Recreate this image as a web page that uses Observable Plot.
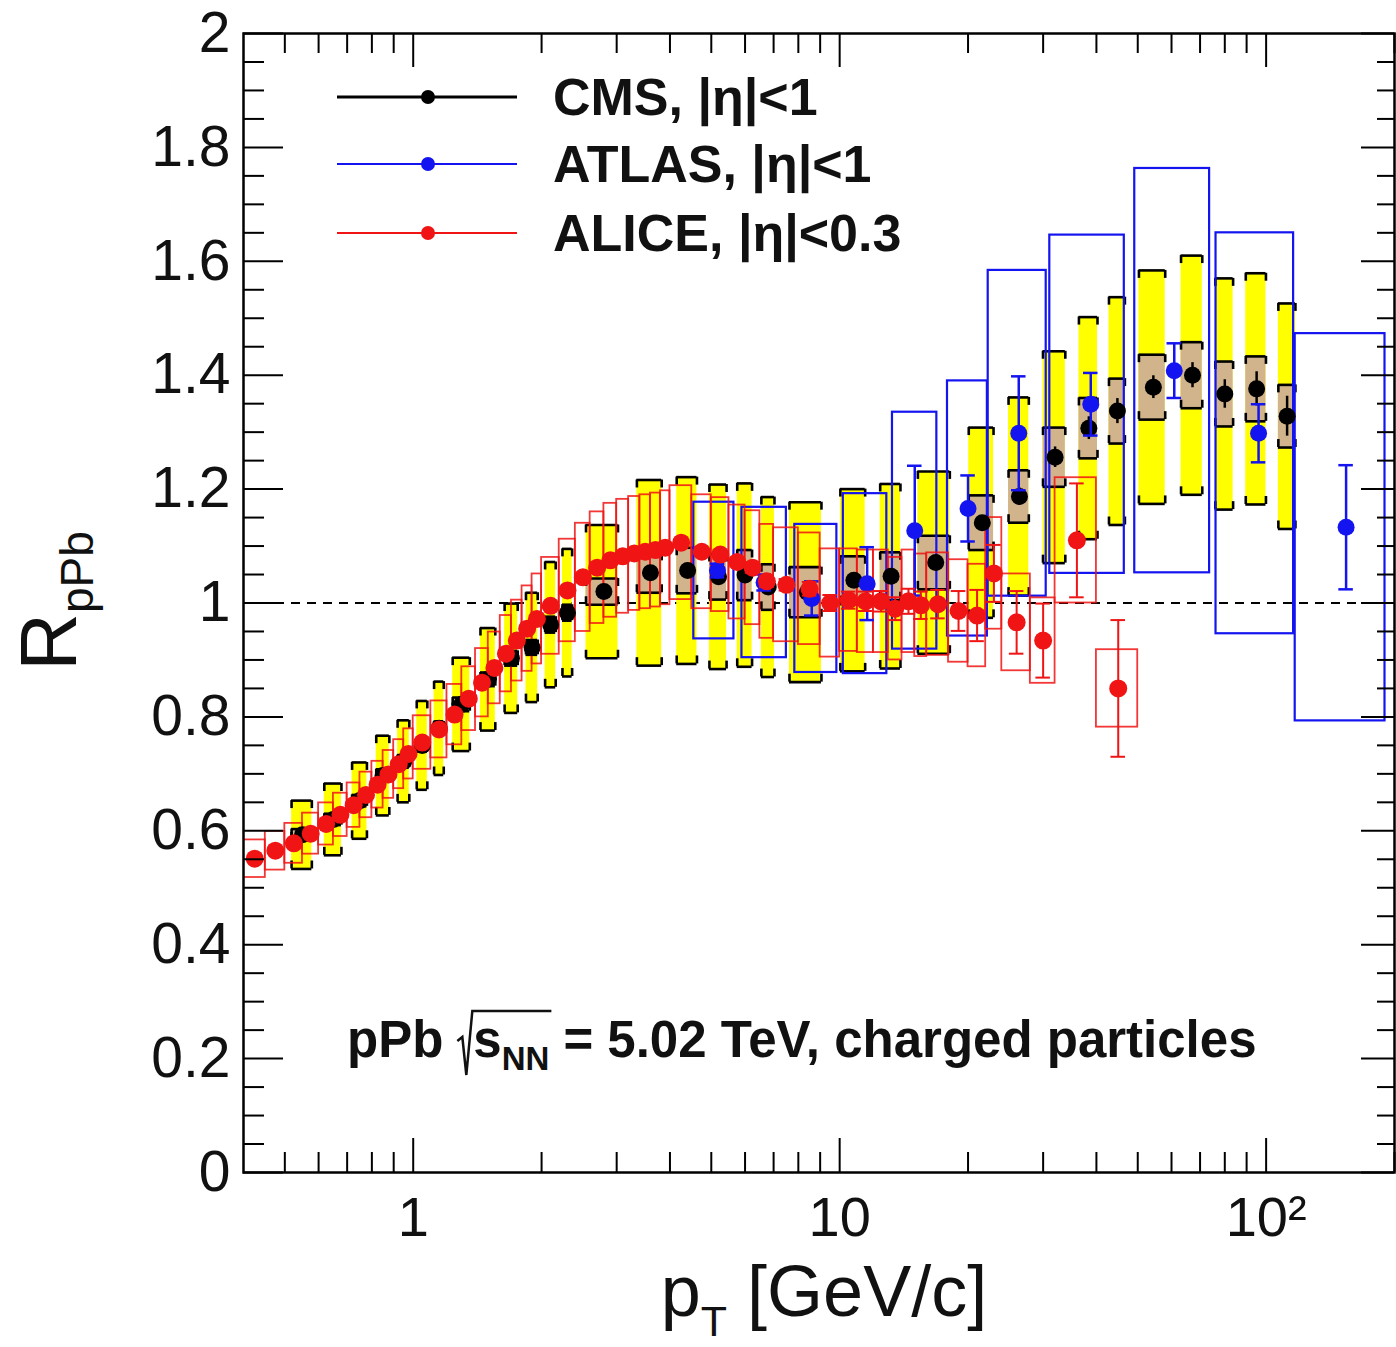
<!DOCTYPE html>
<html><head><meta charset="utf-8">
<script src="https://cdn.jsdelivr.net/npm/d3@7"></script>
<script src="https://cdn.jsdelivr.net/npm/@observablehq/plot@0.6"></script>
<style>
html,body{margin:0;padding:0;background:#ffffff;}
#chart{width:1396px;height:1347px;overflow:hidden;}
svg{display:block;}
</style></head>
<body><div id="chart"></div>
<script>
// ---------------- CMS, |eta|<1 ----------------
const cmsLo = [0.5,0.6,0.7,0.8,0.9,1.0,1.1,1.2,1.4,1.6,1.8,2.0,2.2,2.4,3.2,4.0,4.8,5.6,6.4,7.2,9.6,12.0,14.4,19.2,24.0,28.8,35.2,41.6,48.0,60.8,73.6,86.4,103.6];
const cmsHi = [0.6,0.7,0.8,0.9,1.0,1.1,1.2,1.4,1.6,1.8,2.0,2.2,2.4,3.2,4.0,4.8,5.6,6.4,7.2,9.6,12.0,14.4,19.2,24.0,28.8,35.2,41.6,48.0,60.8,73.6,86.4,103.6,120.8];
const cmsPt = [0.55,0.65,0.75,0.85,0.95,1.05,1.15,1.3,1.5,1.7,1.9,2.1,2.3,2.8,3.6,4.4,5.2,6.0,6.8,8.4,10.8,13.2,16.8,21.6,26.4,32,38.4,44.8,54.4,67.2,80,95,112];
const cmsR = [0.593,0.620,0.653,0.697,0.722,0.750,0.780,0.822,0.866,0.903,0.922,0.962,0.983,1.020,1.053,1.057,1.046,1.049,1.028,1.019,1.040,1.047,1.071,1.141,1.187,1.256,1.307,1.337,1.379,1.400,1.367,1.376,1.328];
const cmsStat = [0.004,0.004,0.004,0.004,0.004,0.004,0.004,0.004,0.004,0.005,0.005,0.005,0.005,0.005,0.006,0.006,0.006,0.007,0.008,0.008,0.009,0.01,0.01,0.012,0.015,0.018,0.02,0.022,0.02,0.022,0.025,0.03,0.035];
const cmsSys = [0.060,0.063,0.067,0.070,0.072,0.078,0.082,0.082,0.090,0.096,0.096,0.110,0.112,0.117,0.163,0.164,0.162,0.161,0.158,0.158,0.160,0.162,0.160,0.167,0.174,0.186,0.195,0.200,0.205,0.210,0.203,0.203,0.198];
const cmsSysB = [0.010,0.010,0.010,0.011,0.011,0.011,0.012,0.012,0.012,0.013,0.013,0.014,0.014,0.023,0.035,0.040,0.040,0.044,0.040,0.044,0.042,0.042,0.047,0.048,0.046,0.052,0.053,0.057,0.057,0.058,0.057,0.057,0.055];

// ---------------- ATLAS, |eta|<1 ----------------
const atlasLo = [4.55,5.9,7.85,10.2,13.3,17.9,22.3,31.1,49.2,76.3,117];
const atlasHi = [5.65,7.5,9.85,12.9,16.9,22.2,30.5,46.5,73.7,116,190];
const atlasPt = [5.17,6.65,8.6,11.6,15.0,20.0,26.3,38.8,60.9,96,154];
const atlasR = [1.057,1.036,1.008,1.034,1.127,1.166,1.298,1.349,1.408,1.298,1.133];
const atlasStat = [0.012,0.014,0.03,0.064,0.114,0.058,0.1,0.055,0.048,0.051,0.109];
const atlasSys = [0.12,0.132,0.13,0.158,0.208,0.224,0.286,0.297,0.355,0.352,0.34];

// ---------------- ALICE, |eta|<0.3 ----------------
const aliceLo = [0.4,0.45,0.5,0.55,0.6,0.65,0.7,0.75,0.8,0.85,0.9,0.95,1.0,1.1,1.2,1.3,1.4,1.5,1.6,1.7,1.8,1.9,2.0,2.2,2.4,2.6,2.8,3.0,3.2,3.4,3.6,3.8,4.0,4.5,5.0,5.5,6.0,6.5,7.0,8.0,9.0,10,11,12,13,14,15,16,18,20,22,24,28,32,40];
const aliceHi = [0.45,0.5,0.55,0.6,0.65,0.7,0.75,0.8,0.85,0.9,0.95,1.0,1.1,1.2,1.3,1.4,1.5,1.6,1.7,1.8,1.9,2.0,2.2,2.4,2.6,2.8,3.0,3.2,3.4,3.6,3.8,4.0,4.5,5.0,5.5,6.0,6.5,7.0,8.0,9.0,10,11,12,13,14,15,16,18,20,22,24,28,32,40,50];
const alicePt = [0.425,0.475,0.525,0.575,0.625,0.675,0.725,0.775,0.825,0.875,0.925,0.975,1.05,1.15,1.25,1.35,1.45,1.55,1.65,1.75,1.85,1.95,2.1,2.3,2.5,2.7,2.9,3.1,3.3,3.5,3.7,3.9,4.25,4.75,5.25,5.75,6.25,6.75,7.5,8.5,9.5,10.5,11.5,12.5,13.5,14.5,15.5,17,19,21,23,26,30,36,45];
const aliceR = [0.551,0.565,0.578,0.595,0.612,0.628,0.645,0.663,0.681,0.699,0.717,0.735,0.755,0.778,0.804,0.832,0.860,0.886,0.911,0.934,0.955,0.972,0.995,1.022,1.045,1.062,1.075,1.082,1.087,1.090,1.093,1.097,1.106,1.090,1.085,1.072,1.062,1.038,1.032,1.025,1.000,1.005,1.003,1.003,0.990,1.003,0.996,0.998,0.986,0.978,1.052,0.966,0.934,1.110,0.850];
const aliceStat = [0.003,0.003,0.003,0.003,0.003,0.003,0.003,0.003,0.003,0.003,0.003,0.003,0.003,0.003,0.003,0.003,0.003,0.003,0.003,0.003,0.003,0.003,0.004,0.004,0.004,0.004,0.004,0.005,0.005,0.005,0.006,0.006,0.006,0.007,0.008,0.008,0.009,0.010,0.010,0.012,0.014,0.015,0.017,0.018,0.020,0.022,0.024,0.025,0.035,0.045,0.050,0.055,0.065,0.100,0.120];
const aliceSys = [0.033,0.034,0.035,0.036,0.037,0.038,0.039,0.040,0.041,0.042,0.043,0.044,0.047,0.050,0.053,0.056,0.060,0.063,0.067,0.071,0.075,0.079,0.085,0.090,0.095,0.098,0.100,0.100,0.100,0.100,0.100,0.100,0.100,0.100,0.100,0.100,0.100,0.100,0.100,0.098,0.095,0.090,0.090,0.090,0.090,0.090,0.090,0.090,0.090,0.090,0.098,0.085,0.075,0.110,0.068];

// ---------------- axes, labels ----------------
const xMajor = [1, 10, 100];
const xMajorLabels = ["1", "10", "10\u00B2"];
const xMinor = [0.5,0.6,0.7,0.8,0.9,2,3,4,5,6,7,8,9,20,30,40,50,60,70,80,90,200];
const yMajor = [0,0.2,0.4,0.6,0.8,1,1.2,1.4,1.6,1.8,2];
const yMajorLabels = ["0","0.2","0.4","0.6","0.8","1","1.2","1.4","1.6","1.8","2"];
const yMinor = d3.range(0, 2.0001, 0.05).filter(v => Math.abs(v*5 - Math.round(v*5)) > 1e-6);
const legendLabels = ["CMS, |\u03B7|<1", "ATLAS, |\u03B7|<1", "ALICE, |\u03B7|<0.3"];

// ---------------- styles ----------------
const BLUE = "#1414f0", RED = "#f01414", YELLOW = "#ffff00", TAN = "#d2b48c";
const FONT = "'Liberation Sans', Arial, Helvetica, sans-serif";
const W = 1396, H = 1347, mL = 243, mR = 2, mT = 33, mB = 175;
const innerW = W - mL - mR, innerH = H - mT - mB;
const capLen = 0.014;   // bracket length, y units
const capF = 1.04;      // error-bar cap half width factor (log x)

const cms = cmsPt.map((pt, i) => ({pt, lo: cmsLo[i], hi: cmsHi[i], R: cmsR[i], stat: cmsStat[i], sys: cmsSys[i], sysB: cmsSysB[i]}));
const atlas = atlasPt.map((pt, i) => ({pt, lo: atlasLo[i], hi: atlasHi[i], R: atlasR[i], stat: atlasStat[i], sys: atlasSys[i]}));
const alice = alicePt.map((pt, i) => ({pt, lo: aliceLo[i], hi: aliceHi[i], R: aliceR[i], stat: aliceStat[i], sys: aliceSys[i]}));

const bx1 = d => d.lo * Math.pow(d.hi / d.lo, 0.2);
const bx2 = d => d.lo * Math.pow(d.hi / d.lo, 0.8);

function brackets(data, key) {
  const top = d => d.R + d[key], bot = d => d.R - d[key];
  const st = {stroke: "black", strokeWidth: 2.6};
  return [
    Plot.ruleY(data, {x1: bx1, x2: bx2, y: top, ...st}),
    Plot.ruleY(data, {x1: bx1, x2: bx2, y: bot, ...st}),
    Plot.ruleX(data, {x: bx1, y1: top, y2: d => top(d) - capLen, ...st}),
    Plot.ruleX(data, {x: bx2, y1: top, y2: d => top(d) - capLen, ...st}),
    Plot.ruleX(data, {x: bx1, y1: bot, y2: d => bot(d) + capLen, ...st}),
    Plot.ruleX(data, {x: bx2, y1: bot, y2: d => bot(d) + capLen, ...st})
  ];
}
function errorBars(data, color, withCaps, sw) {
  const m = [Plot.ruleX(data, {x: "pt", y1: d => d.R - d.stat, y2: d => d.R + d.stat, stroke: color, strokeWidth: sw})];
  if (withCaps) {
    m.push(Plot.ruleY(data, {x1: d => d.pt / capF, x2: d => d.pt * capF, y: d => d.R + d.stat, stroke: color, strokeWidth: sw}));
    m.push(Plot.ruleY(data, {x1: d => d.pt / capF, x2: d => d.pt * capF, y: d => d.R - d.stat, stroke: color, strokeWidth: sw}));
  }
  return m;
}

const plot = Plot.plot({
  width: W, height: H,
  marginLeft: mL, marginRight: mR, marginTop: mT, marginBottom: mB,
  x: {type: "log", domain: [0.4, 200], axis: null},
  y: {domain: [0, 2], axis: null},
  style: {background: "#ffffff", fontFamily: FONT, overflow: "visible"},
  marks: [
    Plot.ruleY([1], {stroke: "black", strokeWidth: 2, strokeDasharray: "9,7"}),
    // CMS boxes
    Plot.rect(cms, {x1: bx1, x2: bx2, y1: d => d.R - d.sys, y2: d => d.R + d.sys, fill: YELLOW}),
    ...brackets(cms, "sys"),
    Plot.rect(cms, {x1: bx1, x2: bx2, y1: d => d.R - d.sysB, y2: d => d.R + d.sysB, fill: TAN}),
    ...brackets(cms, "sysB"),
    // ATLAS boxes
    Plot.rect(atlas, {x1: "lo", x2: "hi", y1: d => d.R - d.sys, y2: d => d.R + d.sys, fill: "none", stroke: BLUE, strokeWidth: 2.2, clip: true}),
    // ALICE boxes
    Plot.rect(alice, {x1: "lo", x2: "hi", y1: d => d.R - d.sys, y2: d => d.R + d.sys, fill: "none", stroke: RED, strokeWidth: 1.8, strokeOpacity: 0.85, clip: true}),
    // CMS points
    ...errorBars(cms, "black", false, 2.5),
    Plot.dot(cms, {x: "pt", y: "R", r: 8.5, fill: "black"}),
    // ATLAS points
    ...errorBars(atlas, BLUE, true, 2.5),
    Plot.dot(atlas, {x: "pt", y: "R", r: 8.5, fill: BLUE}),
    // ALICE points
    ...errorBars(alice, RED, true, 2),
    Plot.dot(alice, {x: "pt", y: "R", r: 9, fill: RED, clip: true}),
    // ticks
    Plot.tickX(xMajor, {x: d => d, stroke: "black", strokeWidth: 2, insetTop: innerH - 34}),
    Plot.tickX(xMinor, {x: d => d, stroke: "black", strokeWidth: 2, insetTop: innerH - 20}),
    Plot.tickX(xMajor, {x: d => d, stroke: "black", strokeWidth: 2, insetBottom: innerH - 34}),
    Plot.tickX(xMinor, {x: d => d, stroke: "black", strokeWidth: 2, insetBottom: innerH - 20}),
    Plot.tickY(yMajor, {y: d => d, stroke: "black", strokeWidth: 2, insetRight: innerW - 40}),
    Plot.tickY(yMinor, {y: d => d, stroke: "black", strokeWidth: 2, insetRight: innerW - 21}),
    Plot.tickY(yMajor, {y: d => d, stroke: "black", strokeWidth: 2, insetLeft: innerW - 33}),
    Plot.tickY(yMinor, {y: d => d, stroke: "black", strokeWidth: 2, insetLeft: innerW - 17}),
    Plot.frame({stroke: "black", strokeWidth: 2.5}),
    // tick labels
    Plot.text(yMajor, {x: 0.4, y: d => d, text: (d, i) => yMajorLabels[i], dx: -13, textAnchor: "end", lineAnchor: "middle", fontSize: 57, fill: "#111"}),
    Plot.text(xMajor, {x: d => d, y: 0, text: (d, i) => xMajorLabels[i], dy: 46, textAnchor: "middle", lineAnchor: "middle", fontSize: 56, fill: "#111"})
  ]
});
document.getElementById("chart").append(plot);

// ---------------- titles, legend, annotation ----------------
const root = d3.select(plot);
const g = root.append("g").attr("font-family", FONT).attr("fill", "#111").attr("text-anchor", "start");

// y title
const yt = g.append("text").attr("transform", "translate(76,601) rotate(-90)").attr("text-anchor", "middle").attr("font-size", 80);
yt.append("tspan").text("R");
yt.append("tspan").attr("font-size", 46).attr("dy", 17).text("pPb");

// x title
const xt = g.append("text").attr("x", 824).attr("y", 1316).attr("text-anchor", "middle").attr("font-size", 72);
xt.append("tspan").text("p");
xt.append("tspan").attr("font-size", 43).attr("dy", 20).text("T");
xt.append("tspan").attr("dy", -20).text(" [GeV/c]");

// legend
const legY = [97, 164, 233];
const legCol = ["black", BLUE, RED];
const legW = [3, 2.2, 2.2];
legendLabels.forEach((lab, i) => {
  g.append("line").attr("x1", 337).attr("x2", 517).attr("y1", legY[i]).attr("y2", legY[i]).attr("stroke", legCol[i]).attr("stroke-width", legW[i]);
  g.append("circle").attr("cx", 428).attr("cy", legY[i]).attr("r", 7).attr("fill", legCol[i]);
  g.append("text").attr("x", 553).attr("y", legY[i] + 18).attr("text-anchor", "start").attr("font-size", 52).attr("font-weight", "bold").text(lab);
});

// annotation: pPb sqrt(s_NN) = 5.02 TeV, charged particles
const annY = 1057, annFS = 51;
let ax = 347;
const t1 = g.append("text").attr("x", ax).attr("y", annY).attr("text-anchor", "start").attr("font-size", annFS).attr("font-weight", "bold").text("pPb");
ax += t1.node().getComputedTextLength() + 17;
const sx0 = ax + 13;
const t2 = g.append("text").attr("x", sx0).attr("y", annY).attr("text-anchor", "start").attr("font-size", annFS).attr("font-weight", "bold");
t2.append("tspan").text("s");
t2.append("tspan").attr("font-size", 33).attr("dy", 13).text("NN");
const sEnd = sx0 + t2.node().getComputedTextLength();
g.append("path").attr("fill", "none").attr("stroke", "#111").attr("stroke-width", 2.5)
  .attr("d", `M${ax - 3},${annY - 16} L${ax + 2},${annY - 20} L${ax + 6},${annY + 18} L${ax + 12},${annY - 46} L${sEnd + 2},${annY - 46}`);
g.append("text").attr("x", sEnd + 14).attr("y", annY).attr("text-anchor", "start").attr("font-size", annFS).attr("font-weight", "bold").text("= 5.02 TeV, charged particles");
</script>
</body></html>
